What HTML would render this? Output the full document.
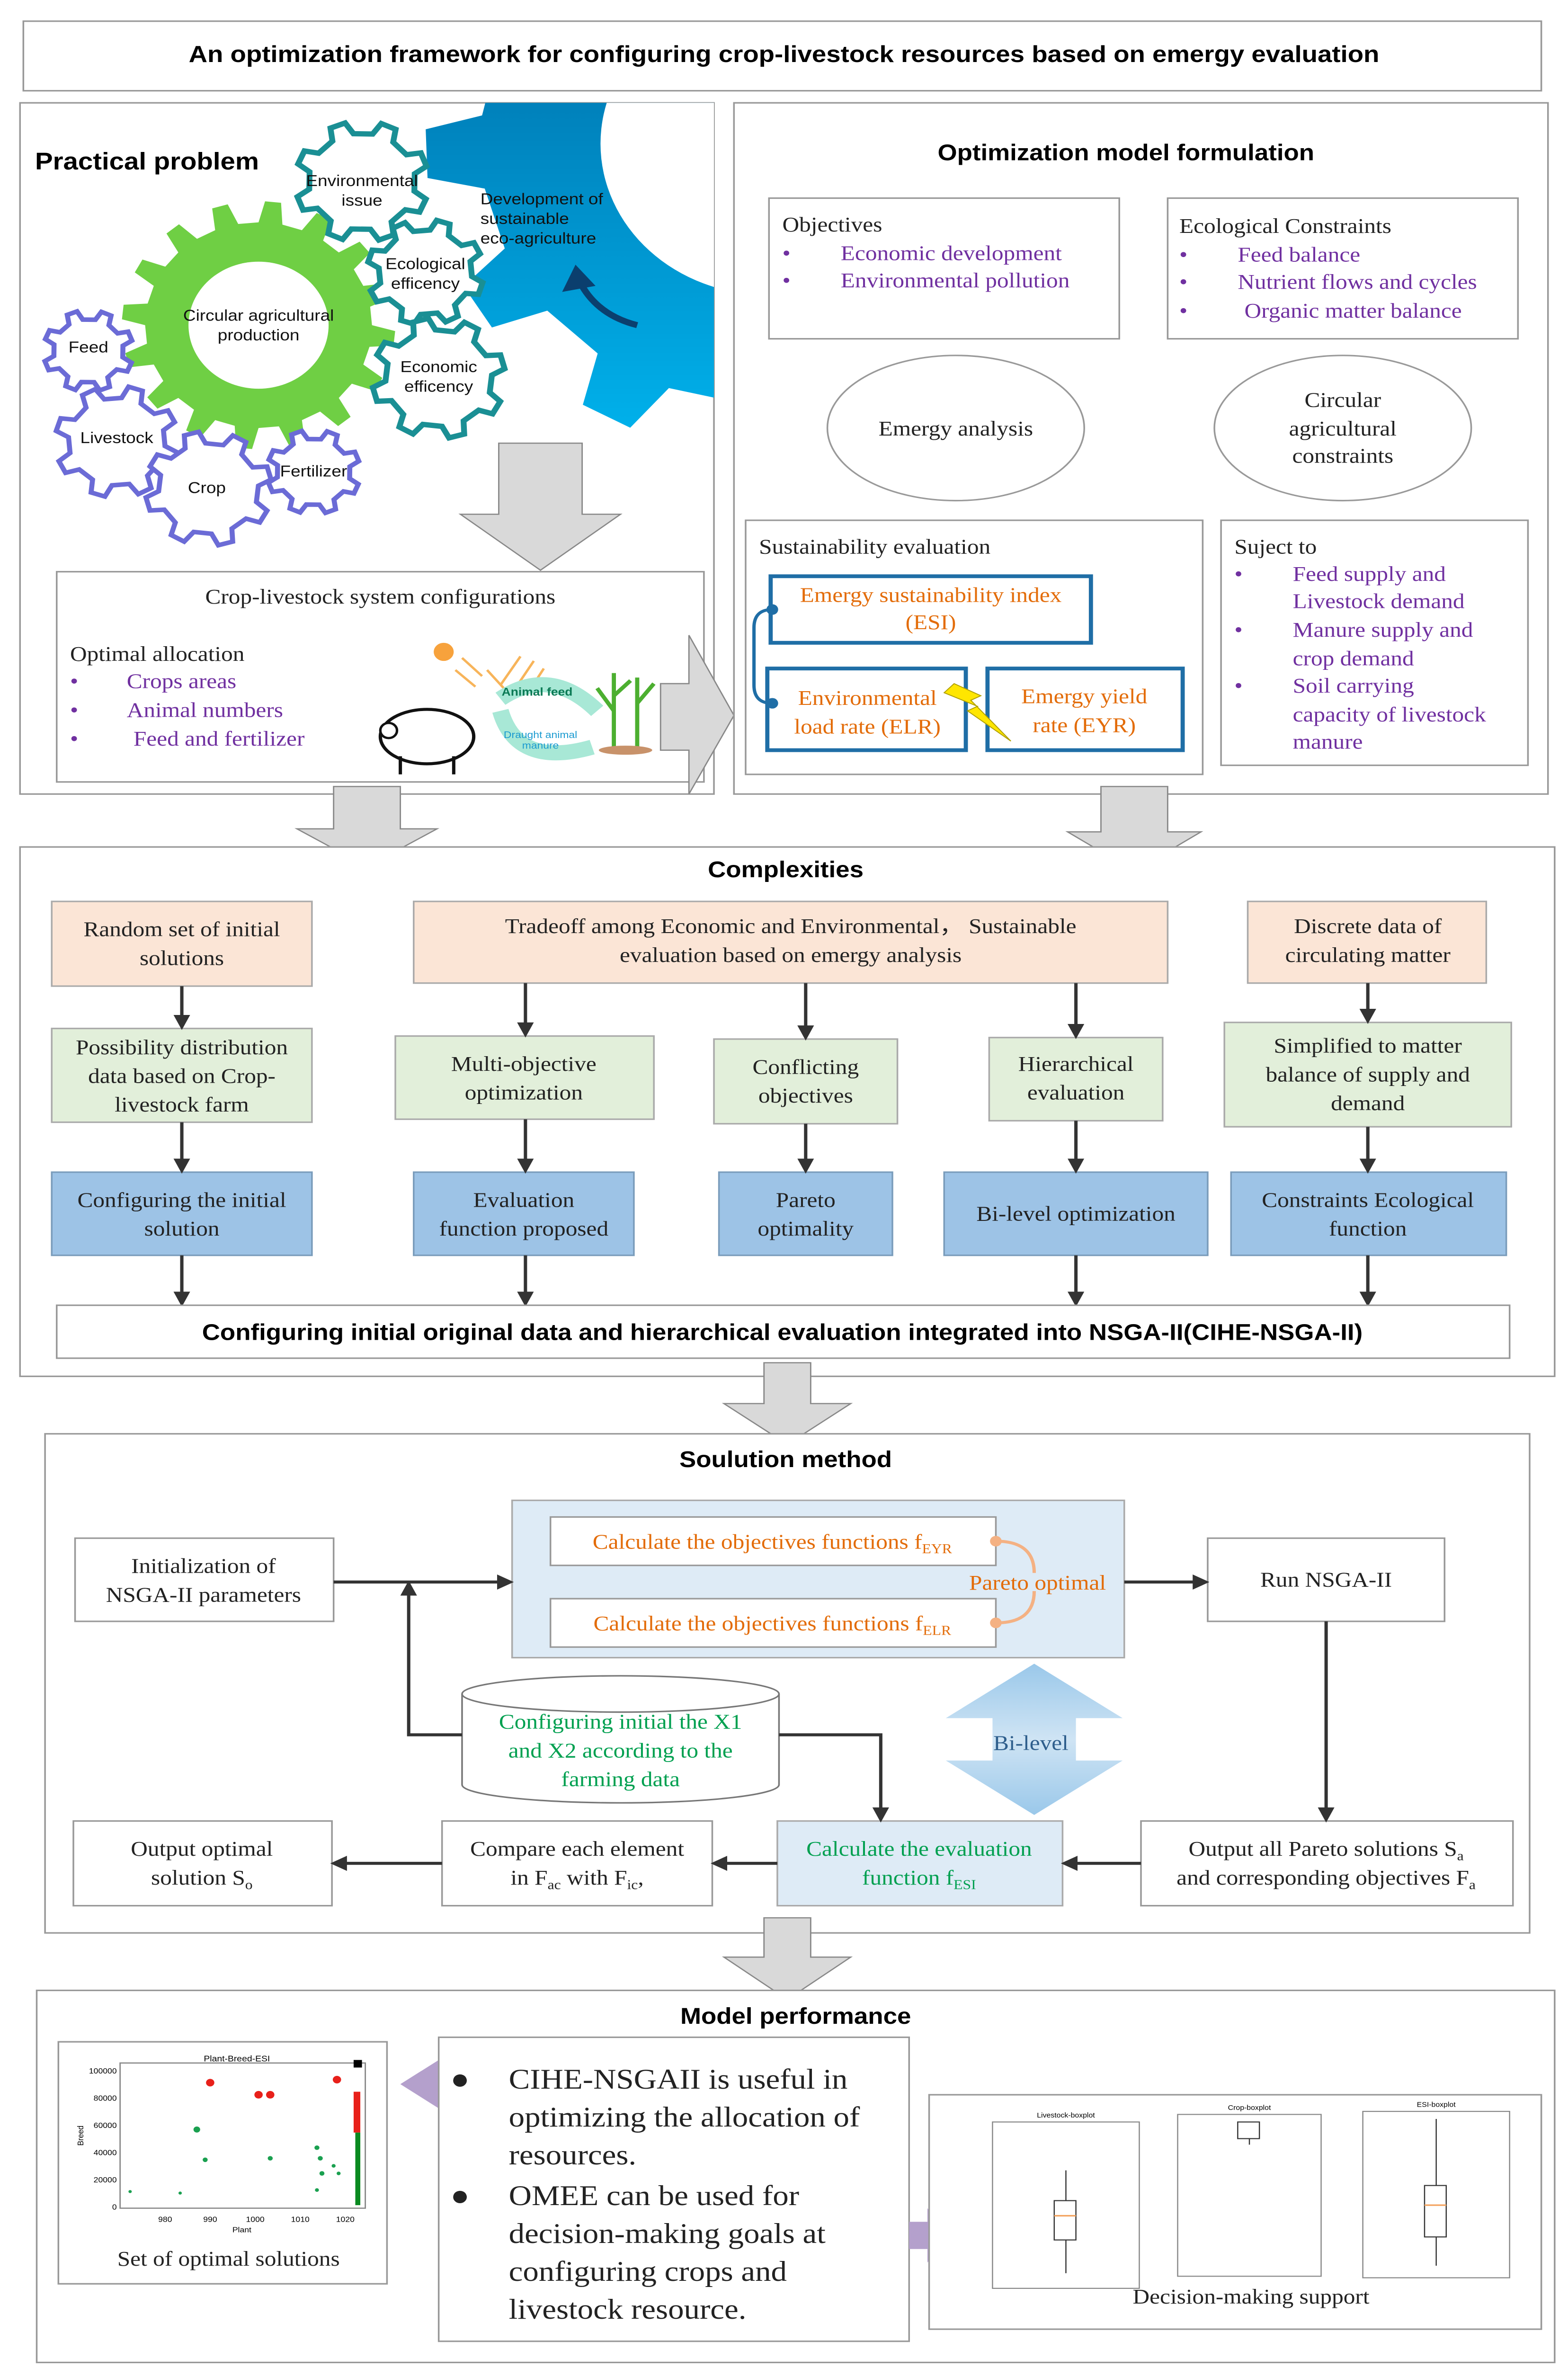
<!DOCTYPE html>
<html><head><meta charset="utf-8">
<style>
html,body{margin:0;padding:0;background:#fff;overflow:hidden;width:100vw;height:100vh;}
svg{display:block;position:fixed;left:0;top:0;width:100vw;height:100vh;}
.s{font-family:"Liberation Serif",serif;font-size:14px;fill:#222;}
.p{fill:#7030a0;}
.o{fill:#e36c09;}
.b{font-family:"Liberation Sans",sans-serif;font-weight:bold;font-size:15px;fill:#000;}
.g{font-family:"Liberation Sans",sans-serif;font-size:10.5px;fill:#111;}
.bx{fill:#fff;stroke:#999;stroke-width:1;}
.ar{stroke:#333;stroke-width:2;fill:none;marker-end:url(#ah);}
.garr{fill:#d9d9d9;stroke:#888;stroke-width:0.8;}
</style></head><body>
<svg id="sv" viewBox="0 0 940 1565" preserveAspectRatio="none" xmlns="http://www.w3.org/2000/svg">
<defs>
<marker id="ah" viewBox="0 0 10 10" refX="8" refY="5" markerWidth="5" markerHeight="5" orient="auto"><path d="M0,0 L10,5 L0,10 z" fill="#333"/></marker>
<linearGradient id="blu" x1="0" y1="0" x2="0" y2="1"><stop offset="0" stop-color="#005a94"/><stop offset="1" stop-color="#00b4ee"/></linearGradient>
<linearGradient id="bil" x1="0" y1="0" x2="0" y2="1"><stop offset="0" stop-color="#9ac8ea"/><stop offset="0.5" stop-color="#cfe4f4"/><stop offset="1" stop-color="#9ac8ea"/></linearGradient>
<clipPath id="cp1"><rect x="12" y="68" width="416" height="457"/></clipPath>
</defs>
<rect width="940" height="1565" fill="#fff"/>
<!-- title -->
<rect x="14" y="14" width="910" height="46" class="bx"/>
<text x="470" y="41" text-anchor="middle" class="b" style="font-size:15.5px">An optimization framework for configuring crop-livestock resources based on emergy evaluation</text>

<!-- Practical panel -->
<rect x="12" y="68" width="416" height="457" class="bx"/>
<g clip-path="url(#cp1)" id="gears"></g>
<text x="21" y="112" class="b" style="font-size:16px">Practical problem</text>
<text x="217" y="123" text-anchor="middle" class="g">Environmental</text>
<text x="217" y="136" text-anchor="middle" class="g">issue</text>
<text x="288" y="135" class="g">Development of</text>
<text x="288" y="148" class="g">sustainable</text>
<text x="288" y="161" class="g">eco-agriculture</text>
<text x="255" y="178" text-anchor="middle" class="g">Ecological</text>
<text x="255" y="191" text-anchor="middle" class="g">efficency</text>
<text x="155" y="212" text-anchor="middle" class="g">Circular agricultural</text>
<text x="155" y="225" text-anchor="middle" class="g">production</text>
<text x="263" y="246" text-anchor="middle" class="g">Economic</text>
<text x="263" y="259" text-anchor="middle" class="g">efficency</text>
<text x="53" y="233" text-anchor="middle" class="g">Feed</text>
<text x="70" y="293" text-anchor="middle" class="g">Livestock</text>
<text x="124" y="326" text-anchor="middle" class="g">Crop</text>
<text x="188" y="315" text-anchor="middle" class="g">Fertilizer</text>
<polygon points="299,293 349,293 349,340 372,340 324,377 276,340 299,340" class="garr"/>
<rect x="34" y="378" width="388" height="139" class="bx"/>
<text x="228" y="399" text-anchor="middle" class="s">Crop-livestock system configurations</text>
<text x="42" y="437" class="s">Optimal allocation</text>
<text x="42" y="455" class="s p">•</text><text x="76" y="455" class="s p">Crops areas</text>
<text x="42" y="474" class="s p">•</text><text x="76" y="474" class="s p">Animal numbers</text>
<text x="42" y="493" class="s p">•</text><text x="80" y="493" class="s p">Feed and fertilizer</text>
<!-- illustration -->
<circle cx="266" cy="431" r="6" fill="#f7a23c"/>
<g stroke="#f7b45a" stroke-width="1.5"><line x1="277" y1="435" x2="289" y2="447"/><line x1="273" y1="443" x2="285" y2="454"/><line x1="292" y1="443" x2="302" y2="455"/><line x1="300" y1="453" x2="312" y2="434"/><line x1="309" y1="455" x2="320" y2="437"/><line x1="316" y1="459" x2="326" y2="442"/></g>
<path d="M300,462 Q330,440 358,470" stroke="#a8e8d6" stroke-width="10" fill="none"/>
<path d="M300,470 Q310,508 355,494" stroke="#a8e8d6" stroke-width="10" fill="none"/>
<text x="322" y="460" text-anchor="middle" style="font-family:'Liberation Sans',sans-serif;font-weight:bold;font-size:7.5px;fill:#0b7a55">Animal feed</text>
<text x="324" y="488" text-anchor="middle" style="font-family:'Liberation Sans',sans-serif;font-size:6.5px;fill:#1a9ad0">Draught animal</text>
<text x="324" y="495" text-anchor="middle" style="font-family:'Liberation Sans',sans-serif;font-size:6.5px;fill:#1a9ad0">manure</text>
<ellipse cx="256" cy="487" rx="28" ry="18" fill="#fff" stroke="#111" stroke-width="2"/>
<circle cx="233" cy="483" r="5" fill="#fff" stroke="#111" stroke-width="1.5"/>
<g stroke="#111" stroke-width="2"><line x1="240" y1="500" x2="240" y2="512"/><line x1="272" y1="500" x2="272" y2="512"/></g>
<g stroke="#4caf30" stroke-width="2.5"><line x1="368" y1="495" x2="368" y2="445"/><line x1="382" y1="495" x2="382" y2="448"/><line x1="368" y1="470" x2="358" y2="455"/><line x1="382" y1="465" x2="392" y2="452"/><line x1="368" y1="460" x2="378" y2="450"/></g>
<ellipse cx="375" cy="496" rx="16" ry="3" fill="#c8926a"/>
<polygon points="396,452 413,452 413,420 440,473 413,525 413,496 396,496" class="garr"/>

<!-- Optimization panel -->
<rect x="440" y="68" width="488" height="457" class="bx"/>
<text x="675" y="106" text-anchor="middle" class="b">Optimization model formulation</text>
<rect x="461" y="131" width="210" height="93" class="bx"/>
<text x="469" y="153" class="s">Objectives</text>
<text x="469" y="172" class="s p">•</text><text x="504" y="172" class="s p">Economic  development</text>
<text x="469" y="190" class="s p">•</text><text x="504" y="190" class="s p">Environmental pollution</text>
<rect x="700" y="131" width="210" height="93" class="bx"/>
<text x="707" y="154" class="s">Ecological Constraints</text>
<text x="707" y="173" class="s p">•</text><text x="742" y="173" class="s p">Feed balance</text>
<text x="707" y="191" class="s p">•</text><text x="742" y="191" class="s p">Nutrient flows and cycles</text>
<text x="707" y="210" class="s p">•</text><text x="746" y="210" class="s p">Organic matter balance</text>
<ellipse cx="573" cy="283" rx="77" ry="48" class="bx"/>
<text x="573" y="288" text-anchor="middle" class="s">Emergy analysis</text>
<ellipse cx="805" cy="283" rx="77" ry="48" class="bx"/>
<text x="805" y="269" text-anchor="middle" class="s">Circular</text>
<text x="805" y="288" text-anchor="middle" class="s">agricultural</text>
<text x="805" y="306" text-anchor="middle" class="s">constraints</text>
<rect x="447" y="344" width="274" height="168" class="bx"/>
<text x="455" y="366" class="s">Sustainability evaluation</text>
<rect x="462" y="381" width="192" height="44" fill="#fff" stroke="#1f6ea6" stroke-width="2.5"/>
<text x="558" y="398" text-anchor="middle" class="s o">Emergy sustainability index</text>
<text x="558" y="416" text-anchor="middle" class="s o">(ESI)</text>
<rect x="460" y="442" width="119" height="54" fill="#fff" stroke="#1f6ea6" stroke-width="2.5"/>
<text x="520" y="466" text-anchor="middle" class="s o">Environmental</text>
<text x="520" y="485" text-anchor="middle" class="s o">load rate (ELR)</text>
<rect x="592" y="442" width="117" height="54" fill="#fff" stroke="#1f6ea6" stroke-width="2.5"/>
<text x="650" y="465" text-anchor="middle" class="s o">Emergy yield</text>
<text x="650" y="484" text-anchor="middle" class="s o">rate (EYR)</text>
<path d="M463,403 Q452,403 452,415 L452,453 Q452,465 463,465" stroke="#1f6ea6" stroke-width="2" fill="none"/>
<circle cx="463" cy="403" r="3.5" fill="#1f6ea6"/><circle cx="463" cy="465" r="3.5" fill="#1f6ea6"/>
<polygon points="572,452 588,460 582,463 606,490 580,470 586,467 566,458" fill="#ffe600" stroke="#b0a000" stroke-width="0.6"/>
<rect x="732" y="344" width="184" height="162" class="bx"/>
<text x="740" y="366" class="s">Suject to</text>
<text x="740" y="384" class="s p">•</text><text x="775" y="384" class="s p">Feed supply and</text>
<text x="775" y="402" class="s p">Livestock demand</text>
<text x="740" y="421" class="s p">•</text><text x="775" y="421" class="s p">Manure supply and</text>
<text x="775" y="440" class="s p">crop demand</text>
<text x="740" y="458" class="s p">•</text><text x="775" y="458" class="s p">Soil carrying</text>
<text x="775" y="477" class="s p">capacity of livestock</text>
<text x="775" y="495" class="s p">manure</text>

<polygon points="200,520 240,520 240,548 262,548 220,573 178,548 200,548" class="garr"/>
<polygon points="660,520 700,520 700,550 720,550 680,576 640,550 660,550" class="garr"/>

<!-- Complexities -->
<rect x="12" y="560" width="920" height="350" class="bx"/>
<text x="471" y="580" text-anchor="middle" class="b">Complexities</text>
<g fill="#fbe5d6" stroke="#aaa">
<rect x="31" y="596" width="156" height="56"/><rect x="248" y="596" width="452" height="54"/><rect x="748" y="596" width="143" height="54"/></g>
<text x="109" y="619" text-anchor="middle" class="s">Random set of initial</text>
<text x="109" y="638" text-anchor="middle" class="s">solutions</text>
<text x="474" y="617" text-anchor="middle" class="s">Tradeoff among Economic and Environmental，  Sustainable</text>
<text x="474" y="636" text-anchor="middle" class="s">evaluation based on emergy analysis</text>
<text x="820" y="617" text-anchor="middle" class="s">Discrete data of</text>
<text x="820" y="636" text-anchor="middle" class="s">circulating matter</text>
<g fill="#e2efda" stroke="#aaa">
<rect x="31" y="680" width="156" height="62"/><rect x="237" y="685" width="155" height="55"/><rect x="428" y="687" width="110" height="56"/><rect x="593" y="686" width="104" height="55"/><rect x="734" y="676" width="172" height="69"/></g>
<text x="109" y="697" text-anchor="middle" class="s">Possibility distribution</text>
<text x="109" y="716" text-anchor="middle" class="s">data based on Crop-</text>
<text x="109" y="735" text-anchor="middle" class="s">livestock farm</text>
<text x="314" y="708" text-anchor="middle" class="s">Multi-objective</text>
<text x="314" y="727" text-anchor="middle" class="s">optimization</text>
<text x="483" y="710" text-anchor="middle" class="s">Conflicting</text>
<text x="483" y="729" text-anchor="middle" class="s">objectives</text>
<text x="645" y="708" text-anchor="middle" class="s">Hierarchical</text>
<text x="645" y="727" text-anchor="middle" class="s">evaluation</text>
<text x="820" y="696" text-anchor="middle" class="s">Simplified to matter</text>
<text x="820" y="715" text-anchor="middle" class="s">balance of supply and</text>
<text x="820" y="734" text-anchor="middle" class="s">demand</text>
<g fill="#9dc3e6" stroke="#7a9cbb">
<rect x="31" y="775" width="156" height="55"/><rect x="248" y="775" width="132" height="55"/><rect x="431" y="775" width="104" height="55"/><rect x="566" y="775" width="158" height="55"/><rect x="738" y="775" width="165" height="55"/></g>
<text x="109" y="798" text-anchor="middle" class="s">Configuring the initial</text>
<text x="109" y="817" text-anchor="middle" class="s">solution</text>
<text x="314" y="798" text-anchor="middle" class="s">Evaluation</text>
<text x="314" y="817" text-anchor="middle" class="s">function proposed</text>
<text x="483" y="798" text-anchor="middle" class="s">Pareto</text>
<text x="483" y="817" text-anchor="middle" class="s">optimality</text>
<text x="645" y="807" text-anchor="middle" class="s">Bi-level optimization</text>
<text x="820" y="798" text-anchor="middle" class="s">Constraints Ecological</text>
<text x="820" y="817" text-anchor="middle" class="s">function</text>
<g class="ar">
<line x1="109" y1="652" x2="109" y2="679"/><line x1="315" y1="650" x2="315" y2="684"/><line x1="483" y1="650" x2="483" y2="686"/><line x1="645" y1="650" x2="645" y2="685"/><line x1="820" y1="650" x2="820" y2="675"/>
<line x1="109" y1="742" x2="109" y2="774"/><line x1="315" y1="740" x2="315" y2="774"/><line x1="483" y1="743" x2="483" y2="774"/><line x1="645" y1="741" x2="645" y2="774"/><line x1="820" y1="745" x2="820" y2="774"/>
<line x1="109" y1="830" x2="109" y2="862"/><line x1="315" y1="830" x2="315" y2="862"/><line x1="645" y1="830" x2="645" y2="862"/><line x1="820" y1="830" x2="820" y2="862"/>
</g>
<rect x="34" y="863" width="871" height="35" class="bx"/>
<text x="469" y="886" text-anchor="middle" class="b">Configuring initial original data  and hierarchical evaluation integrated into NSGA-II(CIHE-NSGA-II)</text>

<polygon points="458,901 486,901 486,928 510,928 472,955 434,928 458,928" class="garr"/>

<!-- Solution method -->
<rect x="27" y="948" width="890" height="330" class="bx"/>
<text x="471" y="970" text-anchor="middle" class="b">Soulution method</text>
<rect x="45" y="1017" width="155" height="55" class="bx"/>
<text x="122" y="1040" text-anchor="middle" class="s">Initialization of</text>
<text x="122" y="1059" text-anchor="middle" class="s">NSGA-II parameters</text>
<rect x="307" y="992" width="367" height="104" fill="#deebf6" stroke="#aaa"/>
<rect x="330" y="1003" width="267" height="32" class="bx"/>
<text x="463" y="1024" text-anchor="middle" class="s o">Calculate the objectives functions f<tspan dy="3" style="font-size:9px">EYR</tspan></text>
<rect x="330" y="1057" width="267" height="32" class="bx"/>
<text x="463" y="1078" text-anchor="middle" class="s o">Calculate the objectives functions  f<tspan dy="3" style="font-size:9px">ELR</tspan></text>
<path d="M597,1019 Q620,1019 620,1040 M597,1073 Q620,1073 620,1052" stroke="#f4b183" stroke-width="2" fill="none"/>
<circle cx="597" cy="1019" r="3.5" fill="#f4b183"/><circle cx="597" cy="1073" r="3.5" fill="#f4b183"/>
<text x="622" y="1051" text-anchor="middle" class="s o">Pareto optimal</text>
<rect x="724" y="1017" width="142" height="55" class="bx"/>
<text x="795" y="1049" text-anchor="middle" class="s">Run NSGA-II</text>
<polygon points="620,1100 673,1136 645,1136 645,1164 673,1164 620,1200 567,1164 595,1164 595,1136 567,1136" fill="url(#bil)"/>
<text x="618" y="1157" text-anchor="middle" class="s" style="fill:#2e5e8c">Bi-level</text>
<path d="M277,1120 L277,1180 A95,12 0 0 0 467,1180 L467,1120" fill="#fff" stroke="#777"/>
<ellipse cx="372" cy="1120" rx="95" ry="12" fill="#fff" stroke="#777"/>
<text x="372" y="1143" text-anchor="middle" class="s" style="fill:#00a050">Configuring initial the X1</text>
<text x="372" y="1162" text-anchor="middle" class="s" style="fill:#00a050">and X2 according to the</text>
<text x="372" y="1181" text-anchor="middle" class="s" style="fill:#00a050">farming data</text>
<rect x="44" y="1204" width="155" height="56" class="bx"/>
<text x="121" y="1227" text-anchor="middle" class="s">Output optimal</text>
<text x="121" y="1246" text-anchor="middle" class="s">solution S<tspan dy="3" style="font-size:9px">o</tspan></text>
<rect x="265" y="1204" width="162" height="56" class="bx"/>
<text x="346" y="1227" text-anchor="middle" class="s">Compare each element</text>
<text x="346" y="1246" text-anchor="middle" class="s">in F<tspan dy="3" style="font-size:9px">ac</tspan><tspan dy="-3"> with F</tspan><tspan dy="3" style="font-size:9px">ic</tspan><tspan dy="-3">,</tspan></text>
<rect x="466" y="1204" width="171" height="56" fill="#deebf6" stroke="#aaa"/>
<text x="551" y="1227" text-anchor="middle" class="s" style="fill:#00a050">Calculate the  evaluation</text>
<text x="551" y="1246" text-anchor="middle" class="s" style="fill:#00a050">function f<tspan dy="3" style="font-size:9px">ESI</tspan></text>
<rect x="684" y="1204" width="223" height="56" class="bx"/>
<text x="795" y="1227" text-anchor="middle" class="s">Output all Pareto  solutions S<tspan dy="3" style="font-size:9px">a</tspan></text>
<text x="795" y="1246" text-anchor="middle" class="s">and corresponding objectives F<tspan dy="3" style="font-size:9px">a</tspan></text>
<g class="ar">
<line x1="200" y1="1046" x2="306" y2="1046"/><line x1="674" y1="1046" x2="723" y2="1046"/>
<line x1="795" y1="1072" x2="795" y2="1203"/><line x1="684" y1="1232" x2="638" y2="1232"/>
<line x1="466" y1="1232" x2="428" y2="1232"/><line x1="265" y1="1232" x2="200" y2="1232"/>
<polyline points="277,1147 245,1147 245,1047"/><polyline points="467,1147 528,1147 528,1203"/>
</g>

<polygon points="458,1268 486,1268 486,1294 510,1294 472,1322 434,1294 458,1294" class="garr"/>

<!-- Model performance -->
<rect x="22" y="1316" width="910" height="246" class="bx"/>
<text x="477" y="1338" text-anchor="middle" class="b">Model performance</text>
<rect x="35" y="1350" width="197" height="160" class="bx"/>
<text x="142" y="1363" text-anchor="middle" style="font-family:'Liberation Sans',sans-serif;font-size:5.5px">Plant-Breed-ESI</text>
<rect x="72" y="1364" width="147" height="96" fill="#fff" stroke="#888" stroke-width="0.8"/>
<g style="font-family:'Liberation Sans',sans-serif;font-size:5px" text-anchor="end">
<text x="70" y="1371">100000</text><text x="70" y="1389">80000</text><text x="70" y="1407">60000</text><text x="70" y="1425">40000</text><text x="70" y="1443">20000</text><text x="70" y="1461">0</text></g>
<g style="font-family:'Liberation Sans',sans-serif;font-size:5px" text-anchor="middle">
<text x="99" y="1469">980</text><text x="126" y="1469">990</text><text x="153" y="1469">1000</text><text x="180" y="1469">1010</text><text x="207" y="1469">1020</text><text x="145" y="1476">Plant</text></g>
<text x="50" y="1412" transform="rotate(-90 50 1412)" text-anchor="middle" style="font-family:'Liberation Sans',sans-serif;font-size:5px">Breed</text>
<g fill="#e8201a"><circle cx="126" cy="1377" r="2.5"/><circle cx="155" cy="1385" r="2.5"/><circle cx="162" cy="1385" r="2.5"/><circle cx="202" cy="1375" r="2.5"/><rect x="212" y="1383" width="4" height="27"/></g>
<rect x="212" y="1362" width="5" height="5" fill="#000"/>
<g fill="#1aa050"><circle cx="118" cy="1408" r="2"/><circle cx="123" cy="1428" r="1.5"/><circle cx="162" cy="1427" r="1.5"/><circle cx="190" cy="1420" r="1.5"/><circle cx="192" cy="1427" r="1.5"/><circle cx="193" cy="1437" r="1.5"/><circle cx="200" cy="1432" r="1.2"/><circle cx="203" cy="1437" r="1.2"/><circle cx="190" cy="1448" r="1.2"/><circle cx="78" cy="1449" r="1"/><circle cx="108" cy="1450" r="1"/><rect x="213" y="1410" width="3" height="48" fill="#0a8a20"/></g>
<text x="137" y="1498" text-anchor="middle" class="s">Set of optimal solutions</text>
<polygon points="240,1378 263,1362 263,1372 280,1372 280,1385 263,1385 263,1394" fill="#b4a0cc"/>
<rect x="263" y="1347" width="282" height="201" class="bx"/>
<g class="s" style="font-size:19px">
<text x="270" y="1381">●</text><text x="305" y="1381">CIHE-NSGAII  is useful in</text>
<text x="305" y="1406">optimizing the allocation of</text>
<text x="305" y="1431">resources.</text>
<text x="270" y="1458">●</text><text x="305" y="1458">OMEE can be used for</text>
<text x="305" y="1483">decision-making goals at</text>
<text x="305" y="1508">configuring crops and</text>
<text x="305" y="1533">livestock resource.</text></g>
<polygon points="545,1469 556,1469 556,1460 567,1478 556,1496 556,1487 545,1487" fill="#b4a0cc"/>
<rect x="557" y="1385" width="367" height="155" class="bx"/>
<g fill="#fff" stroke="#888" stroke-width="0.7">
<rect x="595" y="1403" width="88" height="110"/><rect x="706" y="1398" width="86" height="107"/><rect x="817" y="1396" width="88" height="110"/></g>
<g style="font-family:'Liberation Sans',sans-serif;font-size:4.5px" text-anchor="middle"><text x="639" y="1400">Livestock-boxplot</text><text x="749" y="1395">Crop-boxplot</text><text x="861" y="1393">ESI-boxplot</text></g>
<g stroke="#333" stroke-width="0.7" fill="#fff">
<line x1="639" y1="1435" x2="639" y2="1503"/><rect x="632" y="1455" width="13" height="26"/>
<line x1="749" y1="1414" x2="749" y2="1418"/><rect x="742" y="1403" width="13" height="11"/>
<line x1="861" y1="1401" x2="861" y2="1498"/><rect x="854" y="1445" width="13" height="34"/></g>
<line x1="632" y1="1465" x2="645" y2="1465" stroke="#f4a460"/><line x1="854" y1="1458" x2="867" y2="1458" stroke="#f4a460"/>
<text x="750" y="1523" text-anchor="middle" class="s">Decision-making support</text>
</svg>
<script>
(function(){
var g=document.getElementById('gears');
var NS='http://www.w3.org/2000/svg';
function gear(cx,cy,ro,ri,n,fill,stroke,sw,rot){
 var s=2*Math.PI/n,d='';rot=rot||0;
 for(var i=0;i<n;i++){var a=i*s+rot;
  var pts=[[ri,a],[ro,a+0.12*s],[ro,a+0.42*s],[ri,a+0.54*s]];
  pts.forEach(function(p,j){d+=(i==0&&j==0?'M':'L')+(cx+p[0]*Math.cos(p[1])).toFixed(1)+','+(cy+p[0]*Math.sin(p[1])).toFixed(1);});}
 d+='Z';
 var e=document.createElementNS(NS,'path');
 e.setAttribute('d',d);e.setAttribute('fill',fill);e.setAttribute('stroke',stroke);e.setAttribute('stroke-width',sw);g.appendChild(e);}
function circ(cx,cy,r,f){var e=document.createElementNS(NS,'circle');e.setAttribute('cx',cx);e.setAttribute('cy',cy);e.setAttribute('r',r);e.setAttribute('fill',f);g.appendChild(e);}
gear(460,95,205,172,12,'url(#blu)','none',0,0.35);
circ(460,95,100,'#fff');
gear(155,215,82,68,16,'#6fcf44','none',0);
circ(155,215,42,'#fff');
gear(217,120,40,32,8,'#fff','#1a8f94',3.5,0.2);
gear(255,180,35,28,8,'#fff','#1a8f94',3.5,0.1);
gear(263,250,40,32,8,'#fff','#1a8f94',3.5,0.3);
gear(53,232,27,21,8,'#fff','#6b6bd6',3,0.2);
gear(70,292,37,29,8,'#fff','#6b6bd6',3,0.1);
gear(125,323,38,30,8,'#fff','#6b6bd6',3,0.3);
gear(188,312,28,22,8,'#fff','#6b6bd6',3,0.2);
var a=document.createElementNS(NS,'path');a.setAttribute('d','M382,215 Q357,208 347,185');a.setAttribute('stroke','#0b3f6e');a.setAttribute('stroke-width','4');a.setAttribute('fill','none');g.appendChild(a);
var h=document.createElementNS(NS,'path');h.setAttribute('d','M337,193 L345,175 L357,189 Z');h.setAttribute('fill','#0b3f6e');g.appendChild(h);
})();
</script>
</body></html>
